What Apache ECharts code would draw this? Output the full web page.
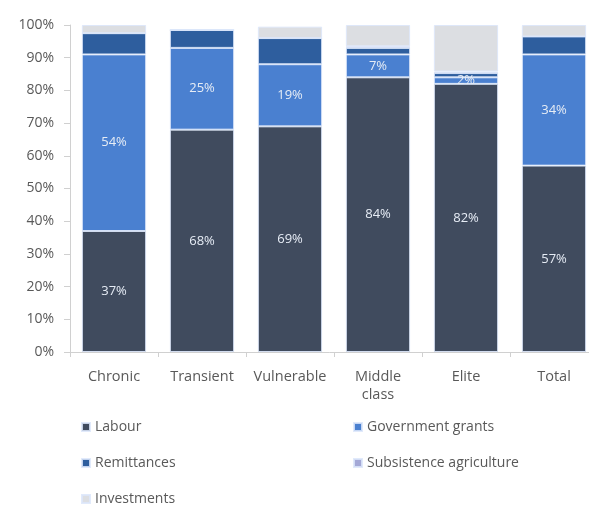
<!DOCTYPE html>
<html><head><meta charset="utf-8">
<script src="https://cdn.jsdelivr.net/npm/echarts@6/dist/echarts.min.js"></script>
<style>html,body{margin:0;padding:0;background:#fff;}#c{width:589px;height:507px;}</style>
</head><body><div id="c"></div>
<script>
const categories = ['Chronic', 'Transient', 'Vulnerable', 'Middle\nclass', 'Elite', 'Total'];
const labour = [37, 68, 69, 84, 82, 57];
const grants = [54, 25, 19, 7, 2, 34];
const remittances = [6.5, 5.5, 8, 2, 1.3, 5.5];
const subsistence = [0, 0, 0, 0.5, 0.5, 0];
const investments = [2.5, 0, 3.5, 6.5, 14.2, 3.5];
const yTicks = [0, 10, 20, 30, 40, 50, 60, 70, 80, 90, 100];

const font = '"Open Sans", "Noto Sans", sans-serif';
const border = {borderColor: 'rgba(220,230,250,0.85)', borderWidth: 1};
function mk(name, data, color, showLabel) {
  return {
    name, type: 'bar', stack: 'a', data, barCategoryGap: '27%',
    itemStyle: Object.assign({color}, border),
    label: showLabel ? {show: true, position: 'inside', color: '#e6ecf5', fontSize: 13, fontFamily: font,
      formatter: p => Math.round(p.value) + '%'} : {show: false},
    emphasis: {disabled: true}
  };
}
const legendText = {fontSize: 14, color: '#595959', fontFamily: font};
const chart = echarts.init(document.getElementById('c'));
chart.setOption({
  animation: false,
  textStyle: {fontFamily: font},
  grid: {left: 70, width: 528, top: 25, height: 327, containLabel: false, outerBoundsMode: 'none'},
  legend: [
    {left: 76, top: 415, height: 100, orient: 'vertical', itemWidth: 8, itemHeight: 8, itemGap: 22, icon: 'rect',
     textStyle: legendText, data: ['Labour', 'Remittances', 'Investments']},
    {left: 348, top: 415, height: 100, orient: 'vertical', itemWidth: 8, itemHeight: 8, itemGap: 22, icon: 'rect',
     textStyle: legendText, data: ['Government grants', 'Subsistence agriculture']}
  ],
  xAxis: {
    type: 'category', data: categories,
    axisLine: {lineStyle: {color: '#d0d0d0'}},
    axisTick: {show: true, length: 5, lineStyle: {color: '#d0d0d0'}},
    axisLabel: {interval: 0, fontSize: 14.5, color: '#595959', margin: 16, lineHeight: 18, fontFamily: font}
  },
  yAxis: {
    type: 'value', min: yTicks[0], max: yTicks[yTicks.length - 1], interval: 10,
    splitLine: {show: false},
    axisLine: {show: true, lineStyle: {color: '#d0d0d0'}},
    axisTick: {show: true, length: 6, lineStyle: {color: '#d0d0d0'}},
    axisLabel: {fontSize: 14, color: '#595959', margin: 16, fontFamily: font, formatter: '{value}%'}
  },
  series: [
    mk('Labour', labour, '#404b5e', true),
    mk('Government grants', grants, '#4a80d0', true),
    mk('Remittances', remittances, '#2e5e9e', false),
    mk('Subsistence agriculture', subsistence, '#a4a8d6', false),
    mk('Investments', investments, '#dcdee2', false)
  ]
});
</script></body></html>
